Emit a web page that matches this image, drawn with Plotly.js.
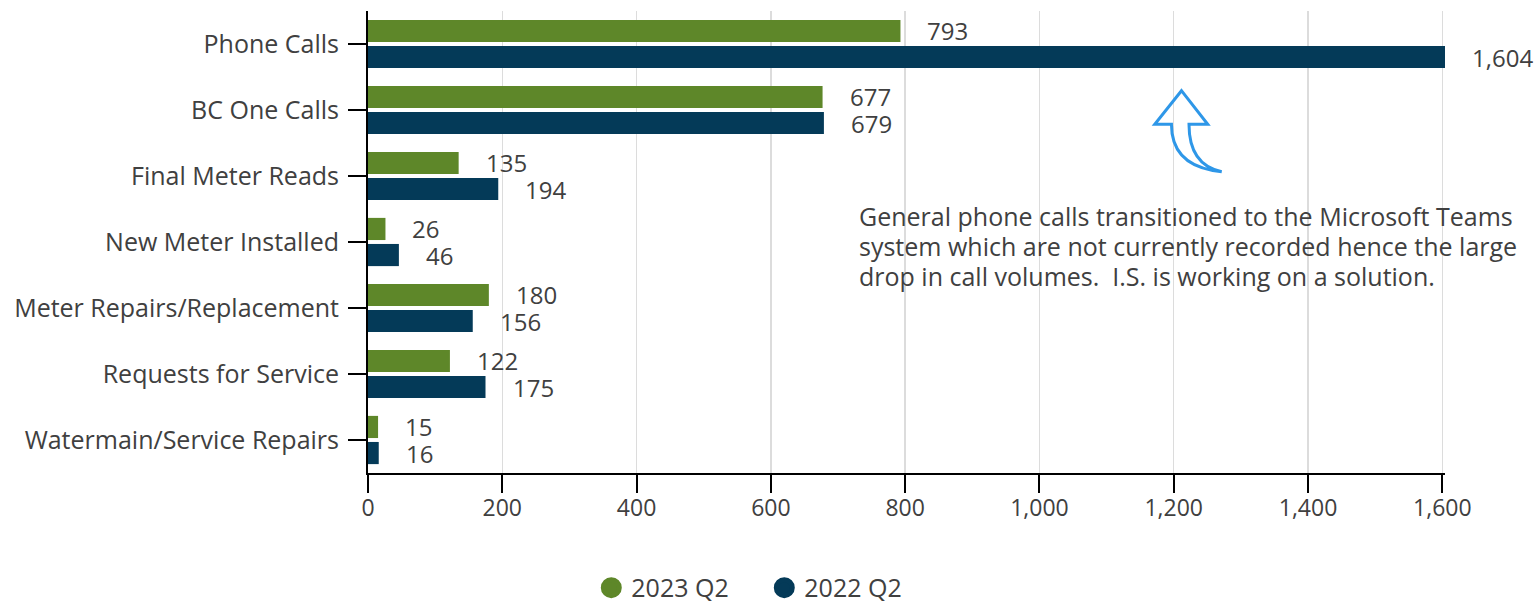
<!DOCTYPE html>
<html><head><meta charset="utf-8">
<script src="https://cdn.plot.ly/plotly-3.0.1.min.js"></script>
<style>html,body{margin:0;padding:0;background:#fff}#chart{width:1535px;height:603px}</style>
</head><body><div id="chart"></div>
<script>
const categories = ["Phone Calls","BC One Calls","Final Meter Reads","New Meter Installed","Meter Repairs/Replacement","Requests for Service","Watermain/Service Repairs"];
const values2023 = [793,677,135,26,180,122,15];
const values2022 = [1604,679,194,46,156,175,16];
const seriesNames = ["2023 Q2","2022 Q2"];
const seriesColors = ["#5E8729","#043A58"];
const xTicks = [0,200,400,600,800,1000,1200,1400,1600];
const noteLines = ["General phone calls transitioned to the Microsoft Teams","system which are not currently recorded hence the large","drop in call volumes.  I.S. is working on a solution."];

const FONT = "Open Sans, sans-serif";
const TXT = "#404040";
const series = [values2023, values2022];

// plot area in pixels
const L = 367.5, R = 1445.5, T = 11, B = 473;
const W = R - L, H = B - T;

const traces = series.map((vals,i)=>({
  type:'bar', orientation:'h', name:seriesNames[i], x:vals, y:categories,
  marker:{color:seriesColors[i]}, showlegend:false, hoverinfo:'x+y'
}));
seriesNames.forEach((n,i)=>traces.push({
  type:'scatter', mode:'markers', name:n, x:[null], y:[null],
  marker:{color:seriesColors[i], size:24, symbol:'circle', line:{color:seriesColors[i], width:8}}, showlegend:true
}));

const annotations = [];
const shifts = [13.5,-13.5];
series.forEach((vals,i)=>vals.forEach((v,j)=>annotations.push({
  x:v, y:categories[j], xref:'x', yref:'y', text:v.toLocaleString('en-US'),
  showarrow:false, xanchor:'left', yanchor:'middle', xshift:25, yshift:shifts[i],
  font:{family:FONT, size:24, color:TXT}
})));
noteLines.forEach((t,k)=>annotations.push({
  xref:'paper', yref:'paper', x:(857-L)/W, y:(B-(216+30*k))/H, xanchor:'left', yanchor:'middle', align:'left',
  showarrow:false, text:t, font:{family:FONT, size:25, color:TXT}
}));

// curved hollow arrow (paper coords)
const px = p => ((p-L)/W).toFixed(4);
const py = p => ((B-p)/H).toFixed(4);
const arrowPath = `M ${px(1171.7)} ${py(124.3)} L ${px(1155)} ${py(124.3)} L ${px(1181.7)} ${py(90.7)} L ${px(1208)} ${py(124.3)} L ${px(1189.3)} ${py(124.3)} `+
  `Q ${px(1189.3)} ${py(165)} ${px(1222)} ${py(171.7)} L ${px(1213)} ${py(170.5)} Q ${px(1171.7)} ${py(163)} ${px(1171.7)} ${py(124.3)} Z`;

const layout = {
  width:1535, height:603,
  margin:{l:L, r:1535-R, t:T, b:603-B, autoexpand:false},
  paper_bgcolor:'#fff', plot_bgcolor:'#fff',
  font:{family:FONT, size:22, color:TXT},
  barmode:'group', bargap:0.21, bargroupgap:0.15,
  xaxis:{range:[0,1604], tickvals:xTicks, ticktext:xTicks.map(v=>v.toLocaleString('en-US')),
    showgrid:true, gridcolor:'#dcdcdc', gridwidth:1.5, zeroline:false,
    showline:true, linecolor:'#000', linewidth:2, ticks:'outside', ticklen:18, tickwidth:2, tickcolor:'#000',
    tickfont:{family:FONT, size:23, color:TXT}, ticklabelstandoff:-5, fixedrange:true},
  yaxis:{type:'category', autorange:'reversed', showgrid:false, zeroline:false,
    showline:true, linecolor:'#000', linewidth:2, ticks:'outside', ticklen:18, tickwidth:2, tickcolor:'#000',
    tickfont:{family:FONT, size:25, color:TXT}, ticklabelstandoff:4, fixedrange:true},
  legend:{orientation:'h', xref:'paper', x:(591-L)/W, xanchor:'left', yref:'container', y:0.025, yanchor:'middle',
    font:{family:FONT, size:25, color:TXT}, itemsizing:'trace', entrywidth:128},
  annotations:annotations,
  shapes:[{type:'path', xref:'paper', yref:'paper', path:arrowPath, line:{color:'#2E97E8', width:3}, fillcolor:'rgba(0,0,0,0)'}]
};
Plotly.newPlot('chart', traces, layout, {displayModeBar:false, staticPlot:true});
</script></body></html>
